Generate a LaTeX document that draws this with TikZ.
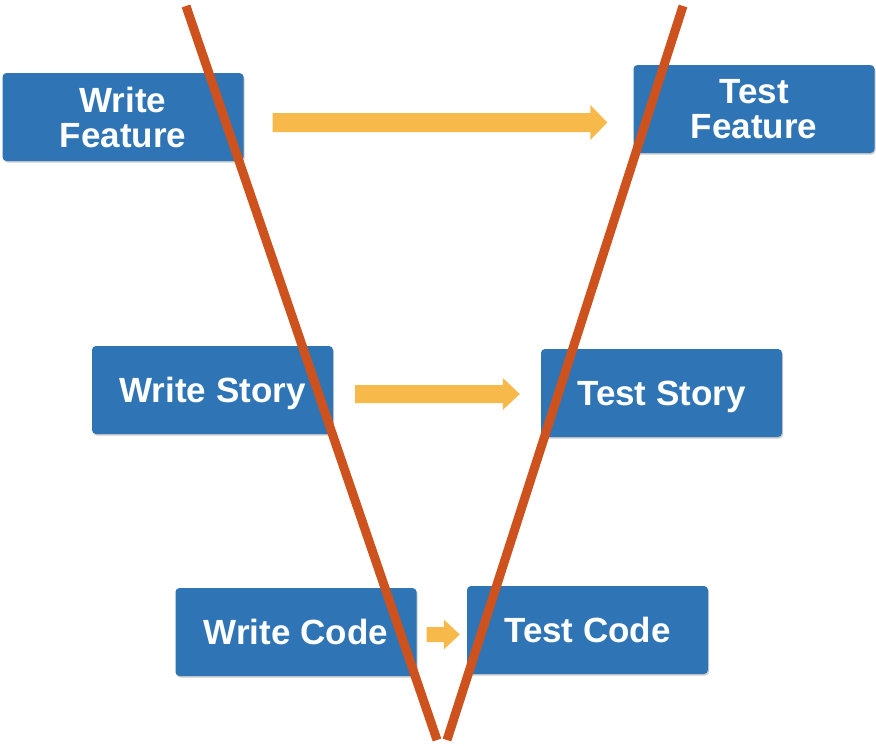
\documentclass[tikz,border=0pt]{standalone}
\usepackage{fontspec}
\setmainfont{Liberation Sans}
\usetikzlibrary{calc,shadows}
\definecolor{boxblue}{RGB}{47,117,182}
\definecolor{vred}{RGB}{205,82,30}
\definecolor{arrowor}{RGB}{248,185,75}
\newcommand\blkarrow[5]{\fill[arrowor] ($(#1)+(0,#3)$) -- ($(#2)+(-#5,#3)$) -- ($(#2)+(-#5,#4)$) -- (#2) -- ($(#2)+(-#5,-#4)$) -- ($(#2)+(-#5,-#3)$) -- ($(#1)+(0,-#3)$) -- cycle;}
\begin{document}
\begin{tikzpicture}[x=1pt,y=-1pt,
  stepbox/.style={fill=boxblue, rounded corners=4pt, minimum width=241pt, minimum height=88pt,
    text=white, font=\fontsize{35}{35}\selectfont\bfseries, align=center, inner sep=0pt,
    drop shadow={shadow xshift=1pt, shadow yshift=-1.5pt, opacity=0.2, fill=black}},
  oneline/.style={text depth=0pt},
  vline/.style={draw=vred, line width=9pt}]
\useasboundingbox (0,0) rectangle (876,745);
\node[stepbox] (wf) at (123,117) {Write\\Feature};
\node[stepbox] (tf) at (754,109) {Test\\Feature};
\node[stepbox,oneline] (ws) at (212.5,390) {Write Story};
\node[stepbox,oneline] (ts) at (661.5,393) {Test Story};
\node[stepbox,oneline] (wc) at (296,632) {Write Code};
\node[stepbox,oneline] (tc) at (587.5,630) {Test Code};
% block arrows
\coordinate (a1s) at ([xshift=29pt]wf.east |- 0,122.5);
\coordinate (a1e) at ([xshift=-26pt]tf.west |- 0,122.5);
\coordinate (a2s) at ([xshift=22pt]ws.east |- 0,394);
\coordinate (a2e) at ([xshift=-21pt]ts.west |- 0,394);
\coordinate (a3s) at ([xshift=10pt]wc.east |- 0,634.5);
\coordinate (a3e) at ([xshift=-7pt]tc.west |- 0,634.5);
\blkarrow{a1s}{a1e}{9.5}{17.5}{17}
\blkarrow{a2s}{a2e}{9}{16}{17}
\blkarrow{a3s}{a3e}{7.5}{15}{16}
% V lines
\coordinate (vl1) at (186,6);
\coordinate (vl2) at (437,740);
\coordinate (vr1) at (683,6);
\coordinate (vr2) at (447,740);
\draw[vline] (vl1) -- (vl2);
\draw[vline] (vr1) -- (vr2);
\end{tikzpicture}
\end{document}
